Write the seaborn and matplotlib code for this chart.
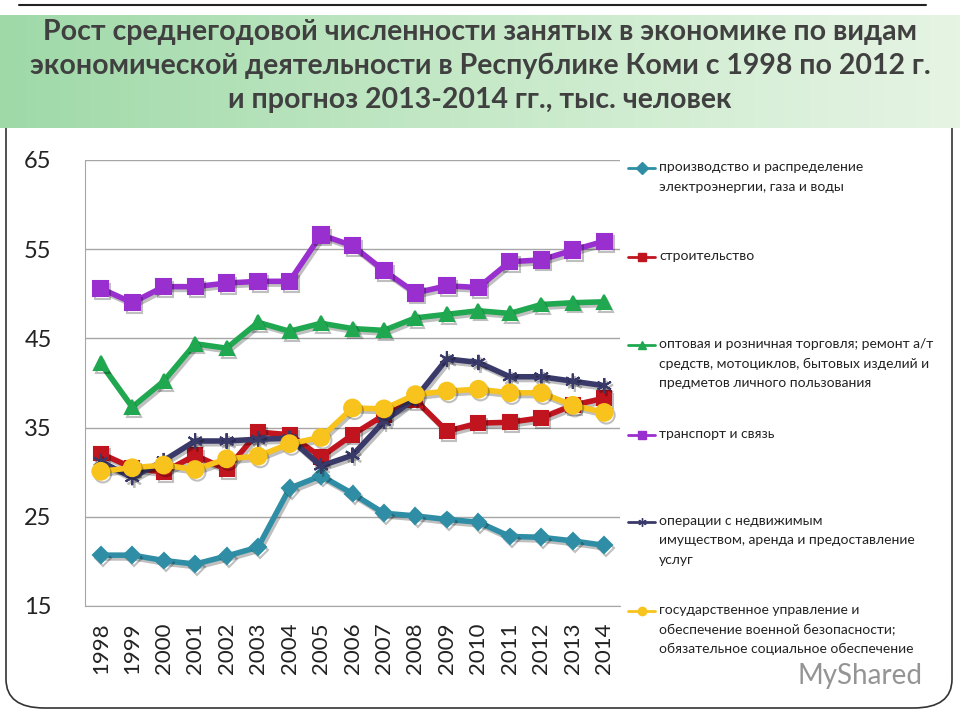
import numpy as np
import pandas as pd
import matplotlib.pyplot as plt
import seaborn as sns
from matplotlib.lines import Line2D
from matplotlib.patches import FancyBboxPatch
from matplotlib.colors import LinearSegmentedColormap
import matplotlib.patheffects as pe

## --- dados (tys. chelovek)
anos = list(range(1998, 2015))

energia = [20.7, 20.7, 20.1, 19.7, 20.6, 21.6, 28.2, 29.6, 27.6, 25.4, 25.1, 24.7, 24.4, 22.8, 22.7, 22.3, 21.8]
construcao = [32.1, 30.5, 30.0, 31.9, 30.3, 34.5, 34.2, 31.7, 34.2, 36.4, 38.1, 34.6, 35.5, 35.6, 36.1, 37.5, 38.3]
comercio = [42.2, 37.3, 40.2, 44.4, 43.9, 46.8, 45.8, 46.7, 46.1, 45.9, 47.3, 47.7, 48.1, 47.8, 48.8, 49.0, 49.1]
transporte = [50.6, 49.0, 50.8, 50.8, 51.2, 51.4, 51.4, 56.6, 55.4, 52.6, 50.1, 50.9, 50.7, 53.6, 53.8, 54.9, 55.9]
imoveis = [31.2, 29.4, 31.3, 33.5, 33.5, 33.7, 33.8, 30.7, 31.9, 35.7, 38.3, 42.7, 42.3, 40.7, 40.7, 40.2, 39.7]
governo = [30.1, 30.5, 30.8, 30.3, 31.5, 31.8, 33.2, 33.9, 37.2, 37.1, 38.7, 39.1, 39.3, 38.9, 38.9, 37.5, 36.7]

nomes = [
    'производство и распределение\nэлектроэнергии, газа и воды',
    'строительство',
    'оптовая и розничная торговля; ремонт а/т\nсредств, мотоциклов, бытовых изделий и\nпредметов личного пользования',
    'транспорт и связь',
    'операции с недвижимым\nимуществом, аренда и предоставление\nуслуг',
    'государственное управление и\nобеспечение военной безопасности;\nобязательное социальное обеспечение',
]
series = [energia, construcao, comercio, transporte, imoveis, governo]
cores = ['#2f8ea5', '#c0141e', '#1fa84f', '#9a2fd0', '#3a3a6a', '#f7c31c']
marcadores = ['D', 's', '^', 's', (6, 2, 0), 'o']
tam_marc = [8, 10, 10, 11, 11, 12]

titulo = ('Рост среднегодовой численности занятых в экономике по видам\n'
          'экономической деятельности в Республике Коми с 1998 по 2012 г.\n'
          'и прогноз 2013-2014 гг., тыс. человек')

sns.set_style('white')
plt.rcParams['font.family'] = ['Lato', 'DejaVu Sans']

fig = plt.figure(figsize=(9.6, 7.2), dpi=100)

## faixa verde do titulo
faixa = fig.add_axes([0.0, 1 - 128 / 720, 1.0, 113 / 720])
grad = np.linspace(0, 1, 256).reshape(1, -1)
cmap_faixa = LinearSegmentedColormap.from_list('f', ['#9fd9a8', '#c6e9c8', '#e6f4e4'])
faixa.imshow(grad, aspect='auto', cmap=cmap_faixa, extent=[0, 1, 0, 1])
faixa.axis('off')
faixa.text(0.5, 0.55, titulo, ha='center', va='center', fontsize=20.5,
           fontweight='bold', color='#404040', linespacing=1.38)

fig.add_artist(Line2D([0.02, 0.965], [1 - 5 / 720, 1 - 5 / 720], color='#222222', lw=1.5))
fig.add_artist(FancyBboxPatch((6 / 960, 12 / 720), 946 / 960, 640 / 720,
                              boxstyle='round,pad=0,rounding_size=0.04',
                              fc='none', ec='#333333', lw=1.2, zorder=-1))

ax = fig.add_axes([85 / 960, 1 - 606 / 720, 535 / 960, 446 / 720])
sombra = [pe.SimpleLineShadow(offset=(1.5, -2), alpha=0.25), pe.Normal()]
for valores, cor, mk, ms in zip(series, cores, marcadores, tam_marc):
    sns.lineplot(x=anos, y=valores, color=cor, marker=mk, markersize=ms,
                 markeredgecolor=cor, markeredgewidth=1.5, linewidth=4, ax=ax)
    ax.lines[-1].set_path_effects(sombra)

ax.set_xlim(1997.5, 2014.5)
ax.set_ylim(15, 65)
ax.set_yticks(range(15, 66, 10))
ax.set_xticks(anos)
ax.set_xticklabels([str(a) for a in anos], rotation=90, fontsize=16, color='#222222')
ax.set_xticks(np.arange(1997.5, 2015, 1), minor=True)
ax.tick_params(axis='x', which='major', length=0, pad=12)
ax.tick_params(axis='x', which='minor', length=5, color='#999999', direction='out')
ax.tick_params(axis='y', labelsize=17, colors='#222222', length=0, pad=24)
ax.grid(axis='y', color='#a6a6a6', lw=1)
ax.set_xlabel('')
ax.set_ylabel('')
for lado in ['top', 'right']:
    ax.spines[lado].set_visible(False)
ax.spines['left'].set_color('#a6a6a6')
ax.spines['bottom'].set_color('#a6a6a6')

## legenda manual, no estilo do original
y_leg = [168, 257, 345, 435, 522, 611]
for nome, cor, mk, y in zip(nomes, cores, marcadores, y_leg):
    yf = 1 - y / 720
    fig.add_artist(Line2D([628 / 960, 655 / 960], [yf, yf], color=cor, lw=2))
    fig.add_artist(Line2D([641.5 / 960], [yf], color=cor, marker=mk,
                          markersize=6, markeredgecolor=cor, lw=0))
    fig.text(659 / 960, yf + 7 / 720, nome, ha='left', va='top', fontsize=10,
             color='#222222', linespacing=1.75)

fig.text(860 / 960, 1 - 676 / 720, 'MyShared', ha='center', va='center',
         fontsize=20, color='#7a7a7a', alpha=0.8)

plt.savefig('out.png', dpi=100)
